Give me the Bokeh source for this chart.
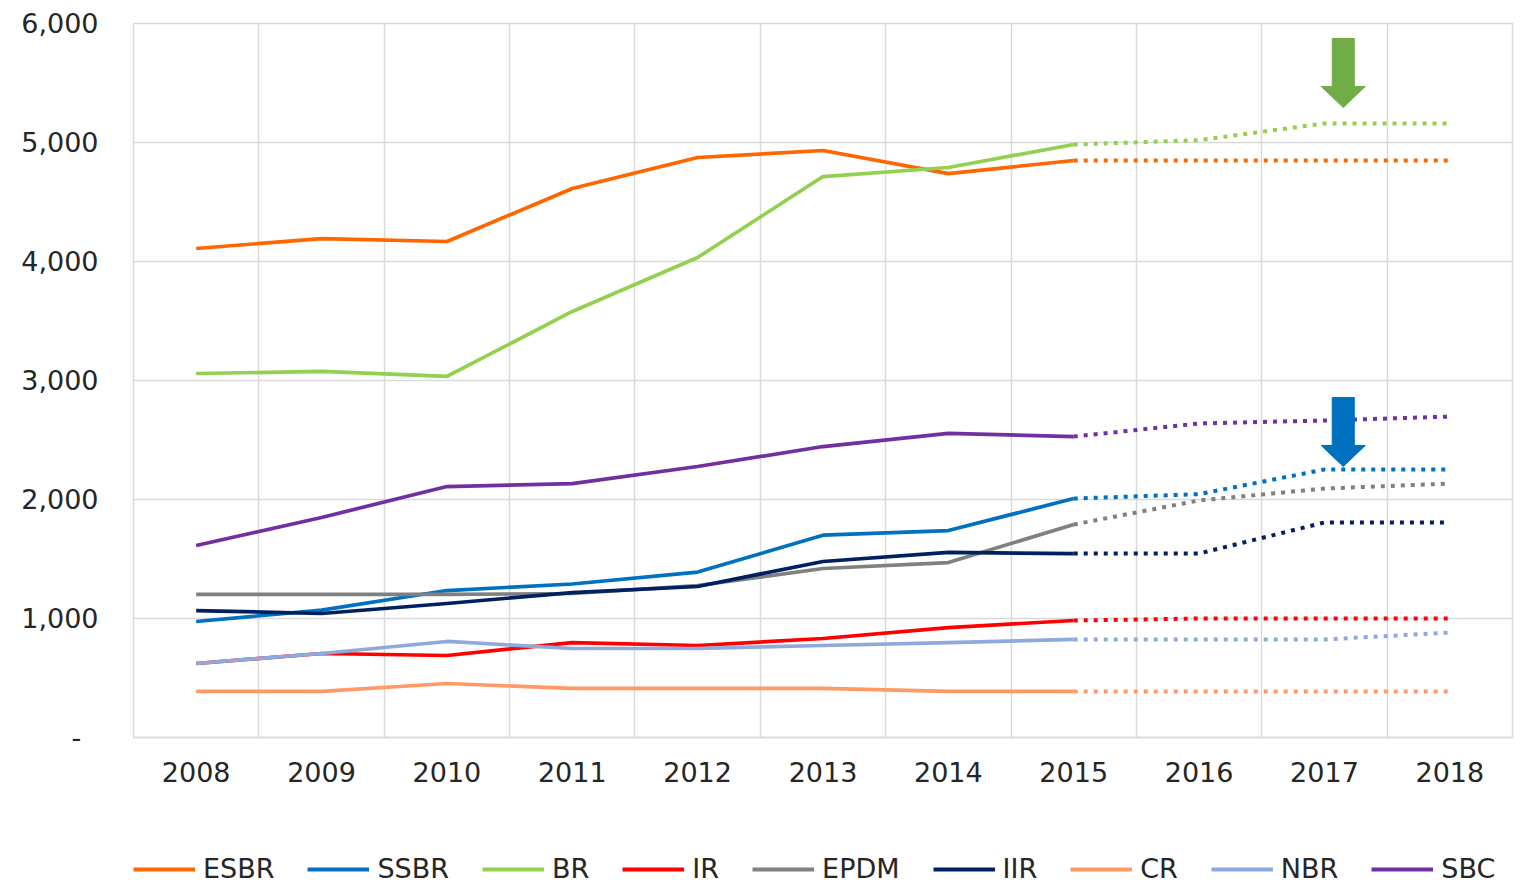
from bokeh.plotting import figure
from bokeh.layouts import column
from bokeh.models import (Range1d, FixedTicker, Legend, LegendItem)
from bokeh.embed import file_html
from bokeh.resources import INLINE

# ---- data ----
years = ["2008", "2009", "2010", "2011", "2012", "2013", "2014", "2015", "2016", "2017", "2018"]
series_names = ["ESBR", "SSBR", "BR", "IR", "EPDM", "IIR", "CR", "NBR", "SBC"]
esbr = [4109, 4193, 4168, 4613, 4874, 4933, 4739, 4849, 4849, 4849, 4849]
ssbr = [975, 1070, 1235, 1290, 1390, 1700, 1739, 2008, 2045, 2252, 2252]
br = [3059, 3076, 3034, 3580, 4034, 4714, 4790, 4983, 5020, 5160, 5160]
ir = [622, 706, 689, 798, 773, 832, 924, 983, 1000, 1000, 1000]
epdm = [1202, 1202, 1202, 1210, 1277, 1420, 1470, 1790, 1992, 2092, 2134]
iir = [1067, 1042, 1126, 1218, 1269, 1479, 1555, 1546, 1546, 1807, 1807]
cr = [387, 387, 454, 412, 412, 412, 387, 387, 387, 387, 387]
nbr = [622, 706, 807, 748, 748, 773, 798, 824, 824, 824, 882]
sbc = [1613, 1849, 2109, 2134, 2277, 2445, 2555, 2529, 2639, 2664, 2697]
series_values = [esbr, ssbr, br, ir, epdm, iir, cr, nbr, sbc]
colors = ["#FF6600", "#0070C0", "#92D050", "#FF0000", "#808080",
          "#002060", "#FF9966", "#8EA9DB", "#7030A0"]
actual_last = 7  # index of 2015: solid up to here, dotted after
y_ticks = [0, 1000, 2000, 3000, 4000, 5000, 6000]

# annotation arrows (category position, tip value, top value)
arrow_x = [9.15, 9.15]
arrow_tip = [5294, 2277]
arrow_top = [5874, 2857]
arrow_colors = ["#70AD47", "#0070C0"]

FONT = "DejaVu Sans"
TXT = "#262626"
GRID = "#D9D9D9"

p = figure(frame_width=1379, frame_height=714,
           min_border_left=133, min_border_top=23, min_border_right=12,
           min_border_bottom=90,
           x_range=Range1d(-0.5, 10.5), y_range=Range1d(0, 6000),
           output_backend="svg", toolbar_location=None)
p.outline_line_color = GRID
p.outline_line_width = 1.5
p.background_fill_color = "white"
p.border_fill_color = "white"

# axes
p.xaxis.ticker = FixedTicker(ticks=list(range(len(years))))
p.xaxis.major_label_overrides = {i: y for i, y in enumerate(years)}
p.xaxis.major_label_text_font = FONT
p.xaxis.major_label_text_font_size = "27px"
p.xaxis.major_label_text_color = TXT
p.xaxis.major_label_standoff = 24
p.xaxis.major_tick_line_color = None
p.xaxis.major_tick_out = 0
p.xaxis.minor_tick_line_color = None
p.xaxis.axis_line_color = GRID
p.xaxis.axis_line_width = 1.5

p.yaxis.ticker = FixedTicker(ticks=y_ticks)
p.yaxis.major_label_overrides = {t: ("-\u00a0\u00a0" if t == 0 else f"{t:,}") for t in y_ticks}
p.yaxis.major_label_text_font = FONT
p.yaxis.major_label_text_font_size = "27px"
p.yaxis.major_label_text_color = TXT
p.yaxis.major_label_standoff = 35
p.yaxis.major_tick_line_color = None
p.yaxis.major_tick_out = 0
p.yaxis.minor_tick_line_color = None
p.yaxis.axis_line_color = None

p.xgrid.ticker = FixedTicker(ticks=[i + 0.5 for i in range(-1, len(years))])
p.xgrid.grid_line_color = GRID
p.xgrid.grid_line_width = 1.5
p.ygrid.ticker = FixedTicker(ticks=y_ticks)
p.ygrid.grid_line_color = GRID
p.ygrid.grid_line_width = 1.5

xs = list(range(len(years)))
for name, vals, col in zip(series_names, series_values, colors):
    p.line(xs[:actual_last + 1], vals[:actual_last + 1], line_color=col,
           line_width=3.7, line_join="round")
    p.line(xs[actual_last:], vals[actual_last:], line_color=col, line_width=4,
           line_dash="4 6", line_cap="butt")

# arrows as polygons
sw, hw, hl = 0.088, 0.176, 177
for ax, tip, top, col in zip(arrow_x, arrow_tip, arrow_top, arrow_colors):
    px = [ax - sw, ax + sw, ax + sw, ax + hw, ax, ax - hw, ax - sw]
    py = [top, top, tip + hl, tip + hl, tip, tip + hl, tip + hl]
    p.patch(px, py, fill_color=col, line_color=col, line_width=1)

# legend strip below the chart
lg = figure(frame_width=1391, frame_height=57,
            min_border_left=133, min_border_right=0,
            min_border_top=0, min_border_bottom=0,
            x_range=Range1d(0, 1), y_range=Range1d(0, 1),
            x_axis_location=None, y_axis_location=None,
            output_backend="svg", toolbar_location=None)
lg.outline_line_color = None
lg.grid.visible = False
lg.border_fill_color = "white"
items = []
for name, col in zip(series_names, colors):
    # legend-only renderers, placed outside the visible range
    r = lg.line([-2, -1], [-2, -1], line_color=col, line_width=4)
    items.append(LegendItem(label=name, renderers=[r]))
legend = Legend(items=items, orientation="horizontal", location=(0, 0),
                label_text_font=FONT, label_text_font_size="27px",
                label_text_color=TXT, glyph_width=62, glyph_height=20,
                label_standoff=8, spacing=33, padding=0, margin=0,
                border_line_color=None, background_fill_alpha=0)
lg.add_layout(legend, "center")

layout = column(p, lg, spacing=0)
open("out.html", "w").write(file_html(layout, INLINE))
